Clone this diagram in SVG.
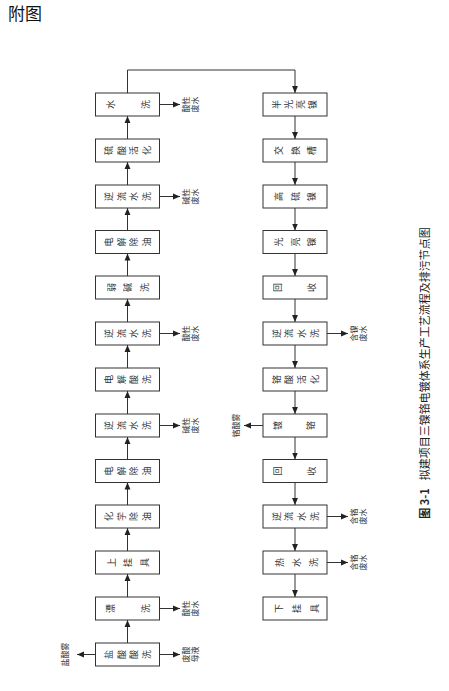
<svg xmlns="http://www.w3.org/2000/svg" width="449" height="691" viewBox="0 0 449 691">
<defs>
<style>
.box{fill:#fff;stroke:#333;stroke-width:1}
.ln{fill:none;stroke:#333;stroke-width:1;marker-end:url(#ah)}
.bt{font-family:"Noto Sans CJK SC","Noto Sans",sans-serif;font-size:9px;fill:#333;text-anchor:middle;dominant-baseline:central}
.lb{font-family:"Noto Sans CJK SC","Noto Sans",sans-serif;font-size:8px;fill:#333;text-anchor:middle}
</style>
<marker id="ah" viewBox="0 0 10 10" refX="10" refY="5" markerWidth="7" markerHeight="7" markerUnits="userSpaceOnUse" orient="auto"><path d="M0,0.8 L10,5 L0,9.2 z" fill="#222"/></marker>
</defs>
<rect width="449" height="691" fill="#fff"/>
<text x="8" y="20" font-family="'Noto Sans CJK SC',sans-serif" font-size="17" fill="#111">附图</text>

<g id="connectors">
<line class="ln" x1="127.5" y1="643" x2="127.5" y2="620"/>
<line class="ln" x1="127.5" y1="597" x2="127.5" y2="574"/>
<line class="ln" x1="127.5" y1="551" x2="127.5" y2="528"/>
<line class="ln" x1="127.5" y1="505" x2="127.5" y2="482.5"/>
<line class="ln" x1="127.5" y1="459.5" x2="127.5" y2="437"/>
<line class="ln" x1="127.5" y1="414" x2="127.5" y2="391"/>
<line class="ln" x1="127.5" y1="368" x2="127.5" y2="345"/>
<line class="ln" x1="127.5" y1="322" x2="127.5" y2="299"/>
<line class="ln" x1="127.5" y1="276" x2="127.5" y2="253.5"/>
<line class="ln" x1="127.5" y1="230.5" x2="127.5" y2="208"/>
<line class="ln" x1="127.5" y1="185" x2="127.5" y2="162"/>
<line class="ln" x1="127.5" y1="139" x2="127.5" y2="116"/>
<path class="ln" d="M127.5,93 V70 H295 V93"/>
<line class="ln" x1="295" y1="116" x2="295" y2="139"/>
<line class="ln" x1="295" y1="162" x2="295" y2="185"/>
<line class="ln" x1="295" y1="208" x2="295" y2="230.5"/>
<line class="ln" x1="295" y1="253.5" x2="295" y2="276"/>
<line class="ln" x1="295" y1="299" x2="295" y2="322"/>
<line class="ln" x1="295" y1="345" x2="295" y2="368"/>
<line class="ln" x1="295" y1="391" x2="295" y2="414"/>
<line class="ln" x1="295" y1="437" x2="295" y2="459.5"/>
<line class="ln" x1="295" y1="482.5" x2="295" y2="505"/>
<line class="ln" x1="295" y1="528" x2="295" y2="551"/>
<line class="ln" x1="295" y1="574" x2="295" y2="597"/>
<line class="ln" x1="159.5" y1="104.5" x2="180" y2="104.5"/>
<line class="ln" x1="159.5" y1="196.5" x2="180" y2="196.5"/>
<line class="ln" x1="159.5" y1="333.5" x2="180" y2="333.5"/>
<line class="ln" x1="159.5" y1="425.5" x2="180" y2="425.5"/>
<line class="ln" x1="159.5" y1="608.5" x2="180" y2="608.5"/>
<line class="ln" x1="159.5" y1="654.5" x2="180" y2="654.5"/>
<line class="ln" x1="95.5" y1="654.5" x2="77" y2="654.5"/>
<line class="ln" x1="327" y1="333.5" x2="348" y2="333.5"/>
<line class="ln" x1="263" y1="425.5" x2="244" y2="425.5"/>
<line class="ln" x1="327" y1="516.5" x2="348" y2="516.5"/>
<line class="ln" x1="327" y1="562.5" x2="348" y2="562.5"/>
</g>

<g id="n_shuixi"><rect class="box" x="95.5" y="93" width="64" height="23"/>
<text class="bt" transform="translate(110,104.5) rotate(-90)">水</text><text class="bt" transform="translate(145,104.5) rotate(-90)">洗</text></g>
<g id="n_suanhuohua"><rect class="box" x="95.5" y="139" width="64" height="23"/>
<text class="bt" transform="translate(108.5,150.5) rotate(-90)">硫</text><text class="bt" transform="translate(121.2,150.5) rotate(-90)">酸</text><text class="bt" transform="translate(133.8,150.5) rotate(-90)">活</text><text class="bt" transform="translate(146.5,150.5) rotate(-90)">化</text></g>
<g id="n_nlsx3"><rect class="box" x="95.5" y="185" width="64" height="23"/>
<text class="bt" transform="translate(108.5,196.5) rotate(-90)">逆</text><text class="bt" transform="translate(121.2,196.5) rotate(-90)">流</text><text class="bt" transform="translate(133.8,196.5) rotate(-90)">水</text><text class="bt" transform="translate(146.5,196.5) rotate(-90)">洗</text></g>
<g id="n_djcy2"><rect class="box" x="95.5" y="230.5" width="64" height="23"/>
<text class="bt" transform="translate(108.5,242) rotate(-90)">电</text><text class="bt" transform="translate(121.2,242) rotate(-90)">解</text><text class="bt" transform="translate(133.8,242) rotate(-90)">除</text><text class="bt" transform="translate(146.5,242) rotate(-90)">油</text></g>
<g id="n_ruojianxi"><rect class="box" x="95.5" y="276" width="64" height="23"/>
<text class="bt" transform="translate(111,287.5) rotate(-90)">弱</text><text class="bt" transform="translate(127.5,287.5) rotate(-90)">碱</text><text class="bt" transform="translate(144,287.5) rotate(-90)">洗</text></g>
<g id="n_nlsx2"><rect class="box" x="95.5" y="322" width="64" height="23"/>
<text class="bt" transform="translate(108.5,333.5) rotate(-90)">逆</text><text class="bt" transform="translate(121.2,333.5) rotate(-90)">流</text><text class="bt" transform="translate(133.8,333.5) rotate(-90)">水</text><text class="bt" transform="translate(146.5,333.5) rotate(-90)">洗</text></g>
<g id="n_djsx"><rect class="box" x="95.5" y="368" width="64" height="23"/>
<text class="bt" transform="translate(108.5,379.5) rotate(-90)">电</text><text class="bt" transform="translate(121.2,379.5) rotate(-90)">解</text><text class="bt" transform="translate(133.8,379.5) rotate(-90)">酸</text><text class="bt" transform="translate(146.5,379.5) rotate(-90)">洗</text></g>
<g id="n_nlsx1"><rect class="box" x="95.5" y="414" width="64" height="23"/>
<text class="bt" transform="translate(108.5,425.5) rotate(-90)">逆</text><text class="bt" transform="translate(121.2,425.5) rotate(-90)">流</text><text class="bt" transform="translate(133.8,425.5) rotate(-90)">水</text><text class="bt" transform="translate(146.5,425.5) rotate(-90)">洗</text></g>
<g id="n_djcy1"><rect class="box" x="95.5" y="459.5" width="64" height="23"/>
<text class="bt" transform="translate(108.5,471) rotate(-90)">电</text><text class="bt" transform="translate(121.2,471) rotate(-90)">解</text><text class="bt" transform="translate(133.8,471) rotate(-90)">除</text><text class="bt" transform="translate(146.5,471) rotate(-90)">油</text></g>
<g id="n_hxcy"><rect class="box" x="95.5" y="505" width="64" height="23"/>
<text class="bt" transform="translate(108.5,516.5) rotate(-90)">化</text><text class="bt" transform="translate(121.2,516.5) rotate(-90)">学</text><text class="bt" transform="translate(133.8,516.5) rotate(-90)">除</text><text class="bt" transform="translate(146.5,516.5) rotate(-90)">油</text></g>
<g id="n_shangguaju"><rect class="box" x="95.5" y="551" width="64" height="23"/>
<text class="bt" transform="translate(111,562.5) rotate(-90)">上</text><text class="bt" transform="translate(127.5,562.5) rotate(-90)">挂</text><text class="bt" transform="translate(144,562.5) rotate(-90)">具</text></g>
<g id="n_piaoxi"><rect class="box" x="95.5" y="597" width="64" height="23"/>
<text class="bt" transform="translate(110,608.5) rotate(-90)">漂</text><text class="bt" transform="translate(145,608.5) rotate(-90)">洗</text></g>
<g id="n_ysx"><rect class="box" x="95.5" y="643" width="64" height="23"/>
<text class="bt" transform="translate(108.5,654.5) rotate(-90)">盐</text><text class="bt" transform="translate(121.2,654.5) rotate(-90)">酸</text><text class="bt" transform="translate(133.8,654.5) rotate(-90)">酸</text><text class="bt" transform="translate(146.5,654.5) rotate(-90)">洗</text></g>

<g id="n_bgln"><rect class="box" x="263" y="93" width="64" height="23"/>
<text class="bt" transform="translate(276.5,104.5) rotate(-90)">半</text><text class="bt" transform="translate(288.5,104.5) rotate(-90)">光</text><text class="bt" transform="translate(300.5,104.5) rotate(-90)">亮</text><text class="bt" transform="translate(312.5,104.5) rotate(-90)">镍</text></g>
<g id="n_jhc"><rect class="box" x="263" y="139" width="64" height="23"/>
<text class="bt" transform="translate(278.5,150.5) rotate(-90)">交</text><text class="bt" transform="translate(295,150.5) rotate(-90)">换</text><text class="bt" transform="translate(311.5,150.5) rotate(-90)">槽</text></g>
<g id="n_gln"><rect class="box" x="263" y="185" width="64" height="23"/>
<text class="bt" transform="translate(278.5,196.5) rotate(-90)">高</text><text class="bt" transform="translate(295,196.5) rotate(-90)">硫</text><text class="bt" transform="translate(311.5,196.5) rotate(-90)">镍</text></g>
<g id="n_gn"><rect class="box" x="263" y="230.5" width="64" height="23"/>
<text class="bt" transform="translate(278.5,242) rotate(-90)">光</text><text class="bt" transform="translate(295,242) rotate(-90)">亮</text><text class="bt" transform="translate(311.5,242) rotate(-90)">镍</text></g>
<g id="n_hs1"><rect class="box" x="263" y="276" width="64" height="23"/>
<text class="bt" transform="translate(277.5,287.5) rotate(-90)">回</text><text class="bt" transform="translate(311,287.5) rotate(-90)">收</text></g>
<g id="n_rnlsx1"><rect class="box" x="263" y="322" width="64" height="23"/>
<text class="bt" transform="translate(276,333.5) rotate(-90)">逆</text><text class="bt" transform="translate(288.7,333.5) rotate(-90)">流</text><text class="bt" transform="translate(301.3,333.5) rotate(-90)">水</text><text class="bt" transform="translate(314,333.5) rotate(-90)">洗</text></g>
<g id="n_gshh"><rect class="box" x="263" y="368" width="64" height="23"/>
<text class="bt" transform="translate(276,379.5) rotate(-90)">铬</text><text class="bt" transform="translate(288.7,379.5) rotate(-90)">酸</text><text class="bt" transform="translate(301.3,379.5) rotate(-90)">活</text><text class="bt" transform="translate(314,379.5) rotate(-90)">化</text></g>
<g id="n_dg"><rect class="box" x="263" y="414" width="64" height="23"/>
<text class="bt" transform="translate(277,425.5) rotate(-90)">镀</text><text class="bt" transform="translate(310,425.5) rotate(-90)">铬</text></g>
<g id="n_hs2"><rect class="box" x="263" y="459.5" width="64" height="23"/>
<text class="bt" transform="translate(277.5,471) rotate(-90)">回</text><text class="bt" transform="translate(311,471) rotate(-90)">收</text></g>
<g id="n_rnlsx2"><rect class="box" x="263" y="505" width="64" height="23"/>
<text class="bt" transform="translate(276,516.5) rotate(-90)">逆</text><text class="bt" transform="translate(288.7,516.5) rotate(-90)">流</text><text class="bt" transform="translate(301.3,516.5) rotate(-90)">水</text><text class="bt" transform="translate(314,516.5) rotate(-90)">洗</text></g>
<g id="n_rsx"><rect class="box" x="263" y="551" width="64" height="23"/>
<text class="bt" transform="translate(279.5,562.5) rotate(-90)">热</text><text class="bt" transform="translate(296.5,562.5) rotate(-90)">水</text><text class="bt" transform="translate(313.5,562.5) rotate(-90)">洗</text></g>
<g id="n_xgj"><rect class="box" x="263" y="597" width="64" height="23"/>
<text class="bt" transform="translate(278.5,608.5) rotate(-90)">下</text><text class="bt" transform="translate(296.5,608.5) rotate(-90)">挂</text><text class="bt" transform="translate(314,608.5) rotate(-90)">具</text></g>

<g id="labels">
<text class="lb" transform="translate(189,104.5) rotate(-90)"><tspan x="0" y="0">酸性</tspan><tspan x="0" y="9">废水</tspan></text>
<text class="lb" transform="translate(189,196.5) rotate(-90)"><tspan x="0" y="0">碱性</tspan><tspan x="0" y="9">废水</tspan></text>
<text class="lb" transform="translate(189,333.5) rotate(-90)"><tspan x="0" y="0">酸性</tspan><tspan x="0" y="9">废水</tspan></text>
<text class="lb" transform="translate(189,425.5) rotate(-90)"><tspan x="0" y="0">碱性</tspan><tspan x="0" y="9">废水</tspan></text>
<text class="lb" transform="translate(189,608.5) rotate(-90)"><tspan x="0" y="0">酸性</tspan><tspan x="0" y="9">废水</tspan></text>
<text class="lb" transform="translate(189,654.5) rotate(-90)"><tspan x="0" y="0">废酸</tspan><tspan x="0" y="9">母液</tspan></text>
<text class="lb" transform="translate(68,654.5) rotate(-90)">盐酸雾</text>
<text class="lb" transform="translate(357,333.5) rotate(-90)"><tspan x="0" y="0">含镍</tspan><tspan x="0" y="9">废水</tspan></text>
<text class="lb" transform="translate(239,425.5) rotate(-90)">铬酸雾</text>
<text class="lb" transform="translate(357,516.5) rotate(-90)"><tspan x="0" y="0">含铬</tspan><tspan x="0" y="9">废水</tspan></text>
<text class="lb" transform="translate(357,562.5) rotate(-90)"><tspan x="0" y="0">含铬</tspan><tspan x="0" y="9">废水</tspan></text>
</g>

<text transform="translate(429,373) rotate(-90)" font-family="'Noto Sans CJK SC',sans-serif" font-size="11" fill="#222" text-anchor="middle"><tspan font-weight="bold">图 3-1</tspan><tspan dx="8">拟建项目三镍铬电镀体系生产工艺流程及排污节点图</tspan></text>
</svg>
